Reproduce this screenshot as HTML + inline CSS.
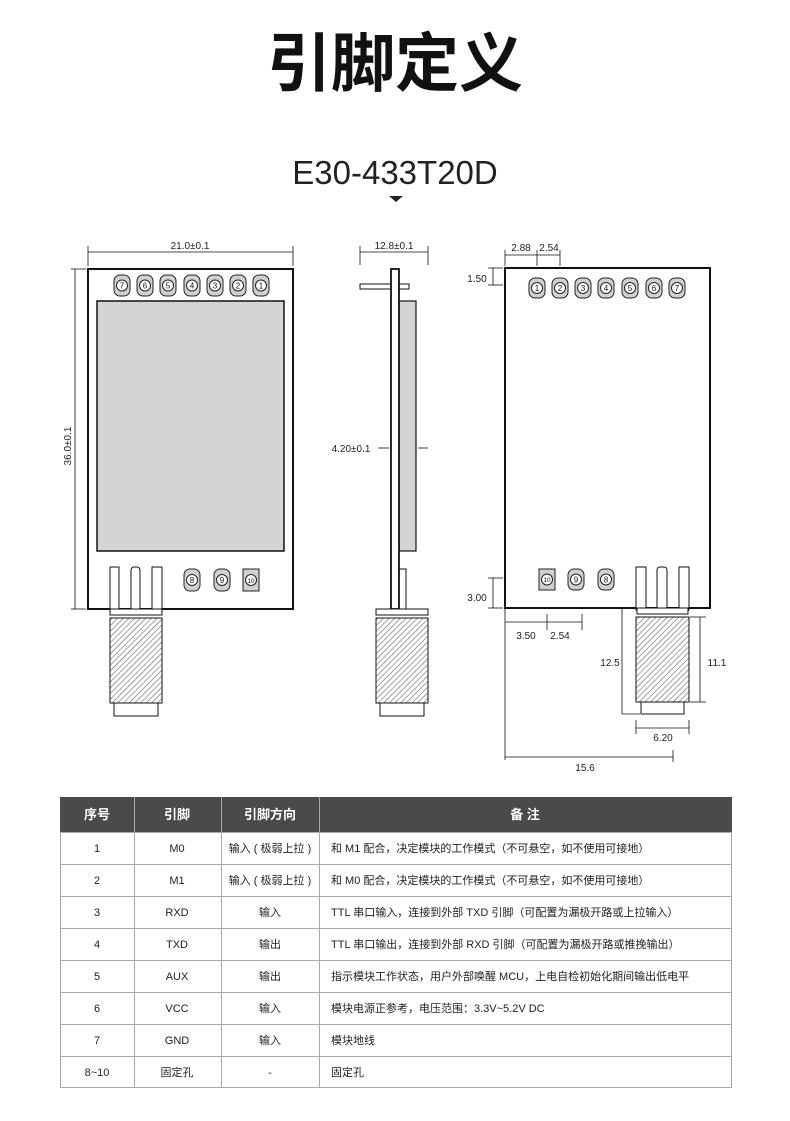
<!DOCTYPE html>
<html><head><meta charset="utf-8"><style>
html,body{margin:0;padding:0;background:#fff}
svg{display:block}
text{font-family:"Liberation Sans","Noto Sans CJK SC",sans-serif}
</style></head><body>
<svg width="790" height="1121" viewBox="0 0 790 1121" xmlns="http://www.w3.org/2000/svg">
<defs>
<pattern id="h" width="4" height="4" patternUnits="userSpaceOnUse" patternTransform="rotate(45)">
<rect width="4" height="4" fill="#fff"/><line x1="0" y1="0" x2="0" y2="4" stroke="#666" stroke-width="1.2"/>
</pattern>
</defs>
<text x="395" y="86" font-size="64" font-weight="bold" text-anchor="middle" fill="#111">引脚定义</text>
<text x="395" y="184" font-size="33" text-anchor="middle" fill="#222">E30-433T20D</text>
<polygon points="389,196 403,196 396,202" fill="#222"/>

<g stroke="#111" fill="none">
<!-- front view -->
<line x1="88" y1="252" x2="293" y2="252" stroke-width="0.8"/>
<line x1="88" y1="246" x2="88" y2="266" stroke-width="0.8"/>
<line x1="293" y1="246" x2="293" y2="266" stroke-width="0.8"/>
<line x1="75" y1="269" x2="75" y2="609" stroke-width="0.8"/>
<line x1="71" y1="269" x2="86" y2="269" stroke-width="0.8"/>
<line x1="71" y1="609" x2="86" y2="609" stroke-width="0.8"/>
<rect x="88" y="269" width="205" height="340" stroke-width="2"/>
<rect x="97" y="301" width="187" height="250" fill="#d4d4d4" stroke-width="1.5"/>
<rect x="110" y="567" width="9" height="44" fill="#fff" stroke-width="1"/>
<rect x="131" y="567" width="9" height="44" rx="3" fill="#fff" stroke-width="1"/>
<rect x="152" y="567" width="10" height="44" fill="#fff" stroke-width="1"/>
<rect x="110" y="609" width="52" height="6" fill="#fff" stroke-width="1"/>
<rect x="110" y="618" width="52" height="85" fill="url(#h)" stroke-width="1"/>
<rect x="114" y="703" width="44" height="13" fill="#fff" stroke-width="1"/>

<!-- side view -->
<line x1="360" y1="252" x2="428" y2="252" stroke-width="0.8"/>
<line x1="360" y1="246" x2="360" y2="265" stroke-width="0.8"/>
<line x1="428" y1="246" x2="428" y2="265" stroke-width="0.8"/>
<rect x="360" y="284" width="49" height="5" fill="#fff" stroke-width="1"/>
<rect x="399" y="301" width="17" height="250" fill="#d4d4d4" stroke-width="1.2"/>
<rect x="399" y="569" width="7" height="40" fill="#fff" stroke-width="1"/>
<rect x="391" y="269" width="8" height="340" fill="#fff" stroke-width="1.8"/>
<rect x="376" y="609" width="52" height="6" fill="#fff" stroke-width="1"/>
<rect x="376" y="618" width="52" height="85" fill="url(#h)" stroke-width="1"/>
<rect x="380" y="703" width="44" height="13" fill="#fff" stroke-width="1"/>
<line x1="378" y1="448" x2="389" y2="448" stroke-width="0.8"/>
<line x1="418" y1="448" x2="428" y2="448" stroke-width="0.8"/>

<!-- back view -->
<rect x="505" y="268" width="205" height="340" stroke-width="2"/>
<line x1="505" y1="255" x2="560" y2="255" stroke-width="0.8"/>
<line x1="505" y1="250" x2="505" y2="266" stroke-width="0.8"/>
<line x1="537" y1="250" x2="537" y2="266" stroke-width="0.8"/>
<line x1="560" y1="250" x2="560" y2="266" stroke-width="0.8"/>
<line x1="493" y1="268" x2="493" y2="285" stroke-width="0.8"/>
<line x1="488" y1="268" x2="503" y2="268" stroke-width="0.8"/>
<line x1="488" y1="285" x2="503" y2="285" stroke-width="0.8"/>
<line x1="493" y1="578" x2="493" y2="608" stroke-width="0.8"/>
<line x1="488" y1="578" x2="503" y2="578" stroke-width="0.8"/>
<line x1="488" y1="608" x2="503" y2="608" stroke-width="0.8"/>
<line x1="505" y1="622" x2="582" y2="622" stroke-width="0.8"/>
<line x1="547" y1="614" x2="547" y2="630" stroke-width="0.8"/>
<line x1="582" y1="614" x2="582" y2="630" stroke-width="0.8"/>
<line x1="505" y1="608" x2="505" y2="760" stroke-width="0.8"/>
<line x1="505" y1="757" x2="673" y2="757" stroke-width="0.8"/>
<line x1="673" y1="750" x2="673" y2="762" stroke-width="0.8"/>
<line x1="622" y1="608" x2="622" y2="714" stroke-width="0.8"/>
<line x1="622" y1="714" x2="640" y2="714" stroke-width="0.8"/>
<line x1="700" y1="617" x2="700" y2="702" stroke-width="0.8"/>
<line x1="690" y1="617" x2="706" y2="617" stroke-width="0.8"/>
<line x1="690" y1="702" x2="706" y2="702" stroke-width="0.8"/>
<line x1="636" y1="728" x2="689" y2="728" stroke-width="0.8"/>
<line x1="636" y1="720" x2="636" y2="734" stroke-width="0.8"/>
<line x1="689" y1="720" x2="689" y2="734" stroke-width="0.8"/>
<rect x="636" y="567" width="10" height="43" fill="#fff" stroke-width="1"/>
<rect x="657" y="567" width="10" height="43" rx="3" fill="#fff" stroke-width="1"/>
<rect x="679" y="567" width="10" height="43" fill="#fff" stroke-width="1"/>
<rect x="637" y="608" width="51" height="6" fill="#fff" stroke-width="1"/>
<rect x="636" y="617" width="53" height="85" fill="url(#h)" stroke-width="1"/>
<rect x="641" y="702" width="43" height="12" fill="#fff" stroke-width="1"/>
</g>

<g font-size="10" fill="#222">
<text x="190" y="249" text-anchor="middle">21.0±0.1</text>
<text x="71" y="446" text-anchor="middle" transform="rotate(-90 71 446)">36.0±0.1</text>
<text x="394" y="249" text-anchor="middle">12.8±0.1</text>
<text x="351" y="452" text-anchor="middle">4.20±0.1</text>
<text x="521" y="251" text-anchor="middle">2.88</text>
<text x="549" y="251" text-anchor="middle">2.54</text>
<text x="477" y="282" text-anchor="middle">1.50</text>
<text x="477" y="601" text-anchor="middle">3.00</text>
<text x="526" y="639" text-anchor="middle">3.50</text>
<text x="560" y="639" text-anchor="middle">2.54</text>
<text x="610" y="666" text-anchor="middle">12.5</text>
<text x="717" y="666" text-anchor="middle">11.1</text>
<text x="663" y="741" text-anchor="middle">6.20</text>
<text x="585" y="771" text-anchor="middle">15.6</text>
</g>

<g font-size="8" fill="#111" text-anchor="middle">
<!-- front pads -->
<g stroke="#222" stroke-width="1">
<rect x="114" y="275" width="16" height="21" rx="6" fill="#d0d0d0"/>
<rect x="137" y="275" width="16" height="21" rx="6" fill="#d0d0d0"/>
<rect x="160" y="275" width="16" height="21" rx="6" fill="#d0d0d0"/>
<rect x="184" y="275" width="16" height="21" rx="6" fill="#d0d0d0"/>
<rect x="207" y="275" width="16" height="21" rx="6" fill="#d0d0d0"/>
<rect x="230" y="275" width="16" height="21" rx="6" fill="#d0d0d0"/>
<rect x="253" y="275" width="16" height="21" rx="6" fill="#d0d0d0"/>
<rect x="184" y="569" width="16" height="22" rx="6" fill="#d0d0d0"/>
<rect x="214" y="569" width="16" height="22" rx="6" fill="#d0d0d0"/>
<rect x="243" y="569" width="16" height="22" fill="#d0d0d0"/>
<rect x="529" y="278" width="16" height="20" rx="6" fill="#d0d0d0"/>
<rect x="552" y="278" width="16" height="20" rx="6" fill="#d0d0d0"/>
<rect x="575" y="278" width="16" height="20" rx="6" fill="#d0d0d0"/>
<rect x="598" y="278" width="16" height="20" rx="6" fill="#d0d0d0"/>
<rect x="622" y="278" width="16" height="20" rx="6" fill="#d0d0d0"/>
<rect x="646" y="278" width="16" height="20" rx="6" fill="#d0d0d0"/>
<rect x="669" y="278" width="16" height="20" rx="6" fill="#d0d0d0"/>
<rect x="539" y="569" width="16" height="21" fill="#d0d0d0"/>
<rect x="568" y="569" width="16" height="21" rx="6" fill="#d0d0d0"/>
<rect x="598" y="569" width="16" height="21" rx="6" fill="#d0d0d0"/>
<g fill="#fff">
<circle cx="122" cy="285.5" r="5.5"/><circle cx="145" cy="285.5" r="5.5"/><circle cx="168" cy="285.5" r="5.5"/><circle cx="192" cy="285.5" r="5.5"/><circle cx="215" cy="285.5" r="5.5"/><circle cx="238" cy="285.5" r="5.5"/><circle cx="261" cy="285.5" r="5.5"/>
<circle cx="192" cy="580" r="5.5"/><circle cx="222" cy="580" r="5.5"/><circle cx="251" cy="580" r="5.5"/>
<circle cx="537" cy="288" r="5.5"/><circle cx="560" cy="288" r="5.5"/><circle cx="583" cy="288" r="5.5"/><circle cx="606" cy="288" r="5.5"/><circle cx="630" cy="288" r="5.5"/><circle cx="654" cy="288" r="5.5"/><circle cx="677" cy="288" r="5.5"/>
<circle cx="547" cy="579.5" r="5.5"/><circle cx="576" cy="579.5" r="5.5"/><circle cx="606" cy="579.5" r="5.5"/>
</g></g>
<text x="122" y="288.5">7</text><text x="145" y="288.5">6</text><text x="168" y="288.5">5</text><text x="192" y="288.5">4</text><text x="215" y="288.5">3</text><text x="238" y="288.5">2</text><text x="261" y="288.5">1</text>
<text x="192" y="583">8</text><text x="222" y="583">9</text><text x="251" y="583" font-size="6.5">10</text>
<text x="537" y="291">1</text><text x="560" y="291">2</text><text x="583" y="291">3</text><text x="606" y="291">4</text><text x="630" y="291">5</text><text x="654" y="291">6</text><text x="677" y="291">7</text>
<text x="547" y="582" font-size="6.5">10</text><text x="576" y="582.5">9</text><text x="606" y="582.5">8</text>
</g>

<!-- table -->
<rect x="60" y="797" width="672" height="35" fill="#4a4a4a"/>
<g font-size="13" fill="#fff" text-anchor="middle" font-weight="bold">
<text x="97" y="819">序号</text><text x="177" y="819">引脚</text><text x="270" y="819">引脚方向</text><text x="525" y="819">备 注</text>
</g>
<g stroke="#aaa" stroke-width="1" fill="none">
<rect x="60.5" y="832.5" width="671" height="255"/>
<line x1="60" y1="864.5" x2="732" y2="864.5"/><line x1="60" y1="896.5" x2="732" y2="896.5"/>
<line x1="60" y1="928.5" x2="732" y2="928.5"/><line x1="60" y1="960.5" x2="732" y2="960.5"/>
<line x1="60" y1="992.5" x2="732" y2="992.5"/><line x1="60" y1="1024.5" x2="732" y2="1024.5"/>
<line x1="60" y1="1056.5" x2="732" y2="1056.5"/>
<line x1="134.5" y1="797" x2="134.5" y2="1087"/><line x1="221.5" y1="797" x2="221.5" y2="1087"/><line x1="319.5" y1="797" x2="319.5" y2="1087"/>
</g>
<g font-size="11" fill="#222">
<g text-anchor="middle">
<text x="97" y="852">1</text><text x="177" y="852">M0</text><text x="270" y="852">输入 ( 极弱上拉 )</text>
<text x="97" y="884">2</text><text x="177" y="884">M1</text><text x="270" y="884">输入 ( 极弱上拉 )</text>
<text x="97" y="916">3</text><text x="177" y="916">RXD</text><text x="270" y="916">输入</text>
<text x="97" y="948">4</text><text x="177" y="948">TXD</text><text x="270" y="948">输出</text>
<text x="97" y="980">5</text><text x="177" y="980">AUX</text><text x="270" y="980">输出</text>
<text x="97" y="1012">6</text><text x="177" y="1012">VCC</text><text x="270" y="1012">输入</text>
<text x="97" y="1044">7</text><text x="177" y="1044">GND</text><text x="270" y="1044">输入</text>
<text x="97" y="1076">8~10</text><text x="177" y="1076">固定孔</text><text x="270" y="1076">-</text>
</g>
<text x="331" y="852">和 M1 配合，决定模块的工作模式（不可悬空，如不使用可接地）</text>
<text x="331" y="884">和 M0 配合，决定模块的工作模式（不可悬空，如不使用可接地）</text>
<text x="331" y="916">TTL 串口输入，连接到外部 TXD 引脚（可配置为漏极开路或上拉输入）</text>
<text x="331" y="948">TTL 串口输出，连接到外部 RXD 引脚（可配置为漏极开路或推挽输出）</text>
<text x="331" y="980">指示模块工作状态，用户外部唤醒 MCU，上电自检初始化期间输出低电平</text>
<text x="331" y="1012">模块电源正参考，电压范围：3.3V~5.2V DC</text>
<text x="331" y="1044">模块地线</text>
<text x="331" y="1076">固定孔</text>
</g>
</svg>
</body></html>
